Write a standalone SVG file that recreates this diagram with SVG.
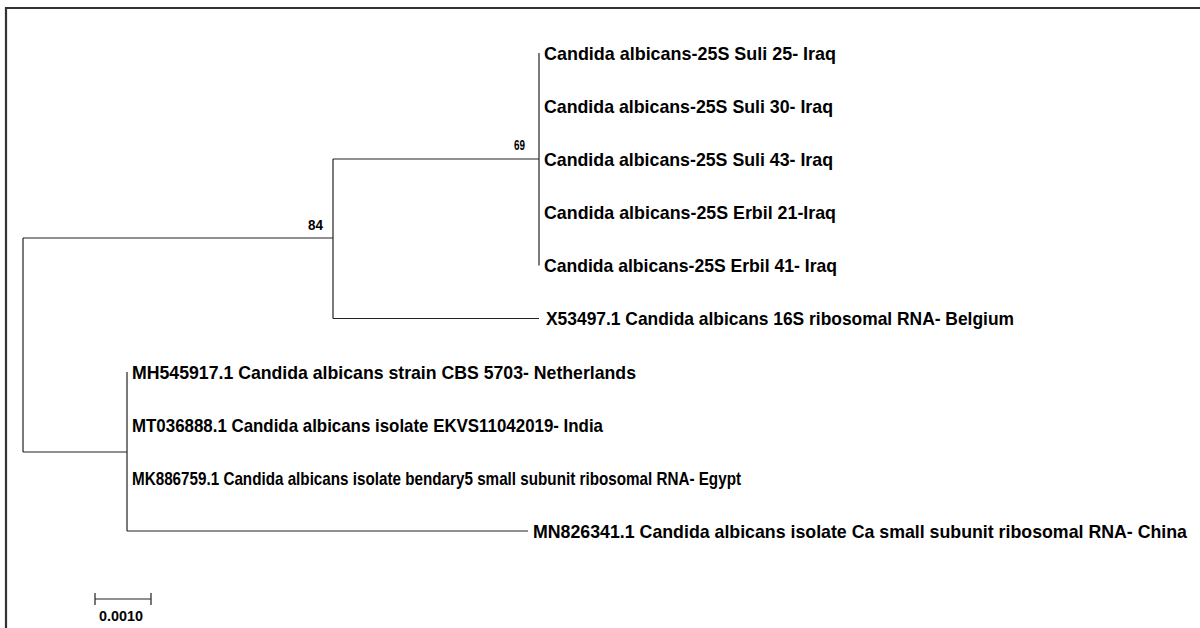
<svg xmlns="http://www.w3.org/2000/svg" width="1200" height="628" viewBox="0 0 1200 628">
<style>
.br{stroke:#222;stroke-width:1.2;fill:none}
.lb{font-family:"Liberation Sans",Arial,sans-serif;font-size:19px;font-weight:bold;fill:#000}
.bs{font-family:"Liberation Sans",Arial,sans-serif;font-size:15px;font-weight:bold;fill:#000}
</style>
<rect width="1200" height="628" fill="#fff"/>
<path d="M6 628 V8 H1200" stroke="#333" stroke-width="2.2" fill="none"/>
<g id="connectors" class="br">
<path d="M23 238 V452"/>
<path d="M23 238 H333"/>
<path d="M23 452 H127"/>
<path d="M333 159 V318.5"/>
<path d="M333 159 H539"/>
<path d="M333 318.5 H539"/>
<path d="M539 53 V265.5"/>
<path d="M127 372 V531"/>
<path d="M127 531 H528"/>
</g>
<g id="n1"><text class="lb" x="544" y="59.5" textLength="292" lengthAdjust="spacingAndGlyphs">Candida albicans-25S Suli 25- Iraq</text></g>
<g id="n2"><text class="lb" x="544" y="112.5" textLength="289" lengthAdjust="spacingAndGlyphs">Candida albicans-25S Suli 30- Iraq</text></g>
<g id="n3"><text class="lb" x="544" y="165.5" textLength="289" lengthAdjust="spacingAndGlyphs">Candida albicans-25S Suli 43- Iraq</text></g>
<g id="n4"><text class="lb" x="544" y="218.5" textLength="292" lengthAdjust="spacingAndGlyphs">Candida albicans-25S Erbil 21-Iraq</text></g>
<g id="n5"><text class="lb" x="544" y="272" textLength="293" lengthAdjust="spacingAndGlyphs">Candida albicans-25S Erbil 41- Iraq</text></g>
<g id="n6"><text class="lb" x="546" y="325" textLength="468" lengthAdjust="spacingAndGlyphs">X53497.1 Candida albicans 16S ribosomal RNA- Belgium</text></g>
<g id="n7"><text class="lb" x="132" y="378.5" textLength="504" lengthAdjust="spacingAndGlyphs">MH545917.1 Candida albicans strain CBS 5703- Netherlands</text></g>
<g id="n8"><text class="lb" x="132" y="431.5" textLength="471" lengthAdjust="spacingAndGlyphs">MT036888.1 Candida albicans isolate EKVS11042019- India</text></g>
<g id="n9"><text class="lb" x="132" y="484.5" textLength="609" lengthAdjust="spacingAndGlyphs">MK886759.1 Candida albicans isolate bendary5 small subunit ribosomal RNA- Egypt</text></g>
<g id="n10"><text class="lb" x="533" y="537.5" textLength="654" lengthAdjust="spacingAndGlyphs">MN826341.1 Candida albicans isolate Ca small subunit ribosomal RNA- China</text></g>
<g id="bootstrap69"><text class="bs" x="514" y="150" textLength="11" lengthAdjust="spacingAndGlyphs">69</text></g>
<g id="bootstrap84"><text class="bs" x="308" y="230" textLength="15" lengthAdjust="spacingAndGlyphs">84</text></g>
<g id="scalebar">
<path class="br" d="M95 599 H151 M95 593 V605 M151 593 V605"/>
<text class="bs" x="99" y="620.5" textLength="44" lengthAdjust="spacingAndGlyphs">0.0010</text>
</g>
</svg>
